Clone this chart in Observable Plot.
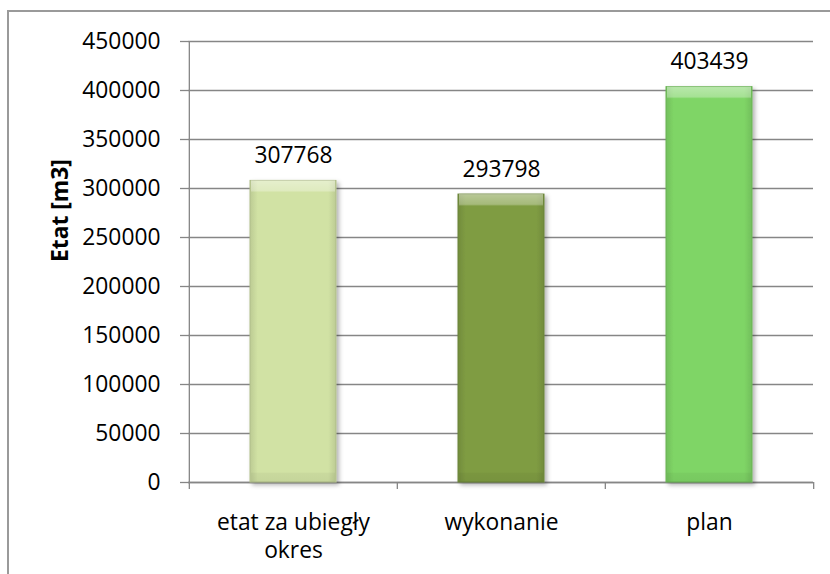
<!DOCTYPE html>
<html><head><meta charset="utf-8">
<script src="https://cdn.jsdelivr.net/npm/d3@7"></script>
<script src="https://cdn.jsdelivr.net/npm/@observablehq/plot@0.6"></script>
<style>
html,body{margin:0;padding:0;background:#fff;}
#wrap{position:relative;width:830px;height:574px;overflow:hidden;background:#fff;}
#border{position:absolute;left:7px;top:10px;width:900px;height:700px;border:2px solid #9a9a9a;box-sizing:border-box;}
#chart{position:absolute;left:0;top:0;}
</style></head><body>
<div id="wrap"><div id="border"></div><div id="chart"></div></div>
<script>
const categories = ["etat za ubiegły okres", "wykonanie", "plan"];
const tickLabels = ["etat za ubiegły\nokres", "wykonanie", "plan"];
const values = [307768, 293798, 403439];
const colors = ["#d1e2a4", "#7f9c43", "#7fd566"];
const yTicks = [0, 50000, 100000, 150000, 200000, 250000, 300000, 350000, 400000, 450000];
const yLabel = "Etat [m3]";

const W = 830, H = 574, mL = 188, mR = 17, mT = 41, mB = 92;
const step = (W - mL - mR) / categories.length;
const data = categories.map((c, i) => ({c, v: values[i], i}));
const grid = "#868686";

const plot = Plot.plot({
  width: W, height: H,
  marginLeft: mL, marginRight: mR, marginTop: mT, marginBottom: mB,
  style: {fontFamily: "'Open Sans', sans-serif", fontSize: "22.8px", color: "#000", background: "transparent", overflow: "visible"},
  x: {domain: categories, paddingInner: 0.587, paddingOuter: 0.2935},
  y: {domain: [0, 450000]},
  marks: [
    Plot.gridY(yTicks, {stroke: grid, strokeOpacity: 1, strokeWidth: 1.3}),
    Plot.axisY(yTicks, {tickSize: 8, tickPadding: 20, tickFormat: d => String(d), stroke: grid, strokeWidth: 1.3, label: null, fill: "#000"}),
    Plot.ruleX([categories[0]], {dx: -step / 2, stroke: grid, strokeWidth: 1.3}),
    Plot.ruleY([0], {stroke: grid, strokeWidth: 1.3}),
    Plot.axisX({tickSize: 7, tickFormat: () => "", dx: -step / 2, stroke: grid, strokeWidth: 1.3, label: null}),
    Plot.axisX([categories[categories.length - 1]], {tickSize: 7, tickFormat: () => "", dx: step / 2, stroke: grid, strokeWidth: 1.3, label: null}),
    Plot.axisX({tickSize: 0, tickPadding: 27, tickFormat: d => tickLabels[categories.indexOf(d)], label: null, lineHeight: 1.25, fill: "#000"}),
    ...data.map((d, i) => Plot.barY([d], {x: "c", y: "v", fill: `url(#bar${i})`, stroke: d3.color(colors[i]).darker(0.5).formatHex(), strokeWidth: 1})),
    ...data.map((d, i) => Plot.barY([d], {x: "c", y: "v", fill: `url(#cap${i})`, insetLeft: 1, insetRight: 1})),
    Plot.text(data, {x: "c", y: "v", text: d => String(d.v), dy: -25, fill: "#000"}),
    Plot.text([yLabel], {frameAnchor: "left", dx: -128, rotate: -90, fontWeight: "bold", text: d => d, fill: "#000"})
  ]
});
document.getElementById("chart").appendChild(plot);

// decorative gradients (styling only)
const svg = d3.select(plot);
const y = plot.scale("y");
const defs = svg.insert("defs", ":first-child");
const sh = defs.append("filter").attr("id", "shadow").attr("x", "-20%").attr("y", "-20%").attr("width", "150%").attr("height", "150%");
sh.append("feDropShadow").attr("dx", 2.5).attr("dy", 2.5).attr("stdDeviation", 2).attr("flood-color", "#000").attr("flood-opacity", 0.3);
data.forEach((d, i) => {
  const base = d3.color(colors[i]);
  const dark = base.darker(0.3).formatHex();
  const g = defs.append("linearGradient").attr("id", `bar${i}`).attr("x1", 0).attr("x2", 1).attr("y1", 0).attr("y2", 0);
  [[0, dark], [0.09, base.formatHex()], [0.91, base.formatHex()], [1, dark]].forEach(([o, c]) =>
    g.append("stop").attr("offset", o).attr("stop-color", c));
  const h = y.apply(0) - y.apply(d.v);
  const t = 12 / h, b = 10 / h;
  const c = defs.append("linearGradient").attr("id", `cap${i}`).attr("x1", 0).attr("x2", 0).attr("y1", 0).attr("y2", 1);
  [[0, "#fff", 0.45], [t * 0.85, "#fff", 0.3], [t, "#fff", 0], [1 - b, "#000", 0], [1 - b * 0.85, "#000", 0.04], [1, "#000", 0.06]].forEach(([o, col, op]) =>
    c.append("stop").attr("offset", o).attr("stop-color", col).attr("stop-opacity", op));
});
svg.selectAll("g[fill^='url(#bar']").attr("filter", "url(#shadow)");
</script>
</body></html>
